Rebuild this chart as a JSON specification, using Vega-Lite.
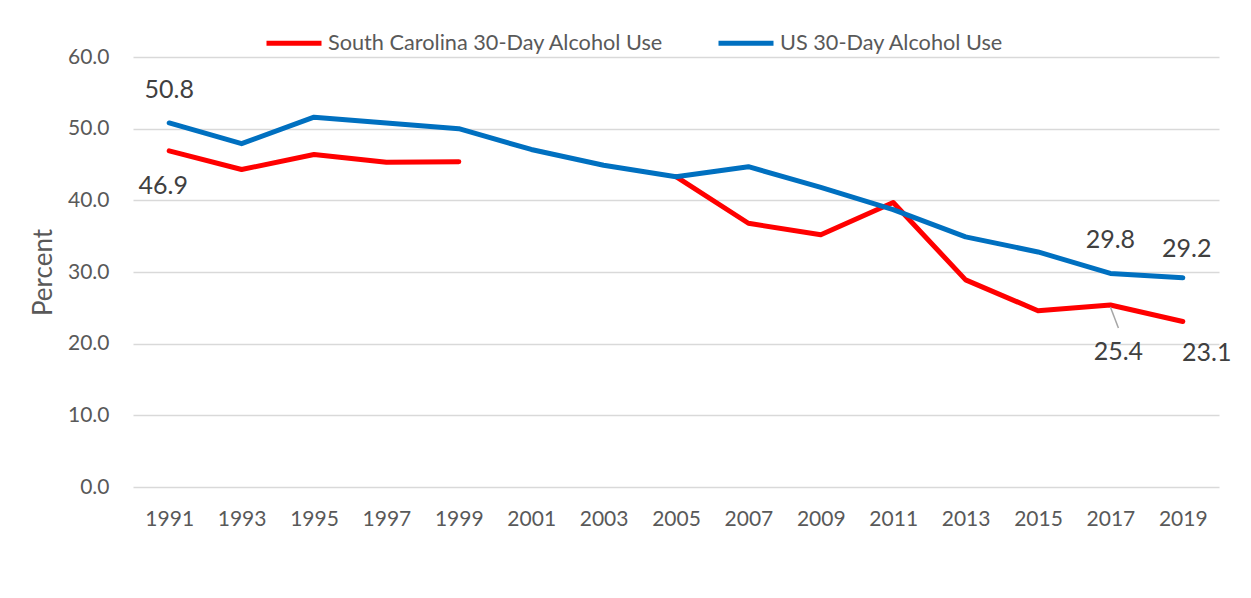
{
  "$schema": "https://vega.github.io/schema/vega-lite/v6.json",
  "width": 1086,
  "height": 430,
  "autosize": {"type": "none"},
  "padding": {"left": 133, "top": 57, "right": 32, "bottom": 111},
  "background": "white",
  "config": {
    "font": "Lato",
    "view": {"stroke": null},
    "axis": {"labelFont": "Lato", "labelColor": "#595959", "labelFontSize": 21, "titleFont": "Lato", "titleColor": "#595959", "titleFontWeight": "normal"}
  },
  "data": {
    "values": [
      {"year": "1991", "series": "South Carolina 30-Day Alcohol Use", "value": 46.9},
      {"year": "1993", "series": "South Carolina 30-Day Alcohol Use", "value": 44.3},
      {"year": "1995", "series": "South Carolina 30-Day Alcohol Use", "value": 46.4},
      {"year": "1997", "series": "South Carolina 30-Day Alcohol Use", "value": 45.3},
      {"year": "1999", "series": "South Carolina 30-Day Alcohol Use", "value": 45.4},
      {"year": "2001", "series": "South Carolina 30-Day Alcohol Use", "value": null},
      {"year": "2003", "series": "South Carolina 30-Day Alcohol Use", "value": null},
      {"year": "2005", "series": "South Carolina 30-Day Alcohol Use", "value": 43.3},
      {"year": "2007", "series": "South Carolina 30-Day Alcohol Use", "value": 36.8},
      {"year": "2009", "series": "South Carolina 30-Day Alcohol Use", "value": 35.2},
      {"year": "2011", "series": "South Carolina 30-Day Alcohol Use", "value": 39.7},
      {"year": "2013", "series": "South Carolina 30-Day Alcohol Use", "value": 28.9},
      {"year": "2015", "series": "South Carolina 30-Day Alcohol Use", "value": 24.6},
      {"year": "2017", "series": "South Carolina 30-Day Alcohol Use", "value": 25.4},
      {"year": "2019", "series": "South Carolina 30-Day Alcohol Use", "value": 23.1},
      {"year": "1991", "series": "US 30-Day Alcohol Use", "value": 50.8},
      {"year": "1993", "series": "US 30-Day Alcohol Use", "value": 47.9},
      {"year": "1995", "series": "US 30-Day Alcohol Use", "value": 51.6},
      {"year": "1997", "series": "US 30-Day Alcohol Use", "value": 50.8},
      {"year": "1999", "series": "US 30-Day Alcohol Use", "value": 50.0},
      {"year": "2001", "series": "US 30-Day Alcohol Use", "value": 47.1},
      {"year": "2003", "series": "US 30-Day Alcohol Use", "value": 44.9},
      {"year": "2005", "series": "US 30-Day Alcohol Use", "value": 43.3},
      {"year": "2007", "series": "US 30-Day Alcohol Use", "value": 44.7},
      {"year": "2009", "series": "US 30-Day Alcohol Use", "value": 41.8},
      {"year": "2011", "series": "US 30-Day Alcohol Use", "value": 38.7},
      {"year": "2013", "series": "US 30-Day Alcohol Use", "value": 34.9},
      {"year": "2015", "series": "US 30-Day Alcohol Use", "value": 32.8},
      {"year": "2017", "series": "US 30-Day Alcohol Use", "value": 29.8},
      {"year": "2019", "series": "US 30-Day Alcohol Use", "value": 29.2}
    ]
  },
  "encoding": {
    "x": {
      "field": "year", "type": "ordinal",
      "scale": {"type": "point", "padding": 0.5},
      "axis": {"title": null, "labelAngle": 0, "domain": false, "ticks": false, "labelPadding": 21, "grid": false}
    },
    "y": {
      "field": "value", "type": "quantitative",
      "scale": {"domain": [0, 60], "nice": false},
      "axis": {"title": "Percent", "titleFontSize": 26, "titlePadding": 11, "values": [0, 10, 20, 30, 40, 50, 60], "format": ".1f", "domain": false, "ticks": false, "labelPadding": 24, "grid": true, "gridColor": "#D9D9D9", "gridWidth": 1.5}
    }
  },
  "layer": [
    {
      "mark": {"type": "line", "strokeWidth": 5, "strokeCap": "round", "strokeJoin": "round", "invalid": "break-paths-show-domains"},
      "encoding": {
        "color": {
          "field": "series", "type": "nominal",
          "scale": {"domain": ["South Carolina 30-Day Alcohol Use", "US 30-Day Alcohol Use"], "range": ["#FF0000", "#0070C0"]},
          "legend": {"title": null, "orient": "none", "direction": "horizontal", "legendX": 131, "legendY": -44, "symbolType": "stroke", "symbolSize": 3025, "symbolStrokeWidth": 5, "labelFont": "Lato", "labelFontSize": 21.7, "labelColor": "#595959", "labelOffset": 4, "labelLimit": 600, "columnPadding": 44}
        }
      }
    },
    {
      "transform": [{"filter": "datum.series == 'US 30-Day Alcohol Use' && (datum.year == '1991' || datum.year == '2017')"}],
      "mark": {"type": "text", "fontSize": 25, "color": "#404040", "dy": -33, "baseline": "middle"},
      "encoding": {"text": {"field": "value", "type": "quantitative", "format": ".1f"}}
    },
    {
      "transform": [{"filter": "datum.series == 'US 30-Day Alcohol Use' && datum.year == '2019'"}],
      "mark": {"type": "text", "fontSize": 25, "color": "#404040", "dy": -29, "dx": 4, "baseline": "middle"},
      "encoding": {"text": {"field": "value", "type": "quantitative", "format": ".1f"}}
    },
    {
      "transform": [{"filter": "datum.series == 'South Carolina 30-Day Alcohol Use' && datum.year == '1991'"}],
      "mark": {"type": "text", "fontSize": 25, "color": "#404040", "dy": 35, "dx": -6, "baseline": "middle"},
      "encoding": {"text": {"field": "value", "type": "quantitative", "format": ".1f"}}
    },
    {
      "transform": [{"filter": "datum.series == 'South Carolina 30-Day Alcohol Use' && datum.year == '2017'"}],
      "mark": {"type": "text", "fontSize": 25, "color": "#404040", "dy": 47, "dx": 8, "baseline": "middle"},
      "encoding": {"text": {"field": "value", "type": "quantitative", "format": ".1f"}}
    },
    {
      "transform": [{"filter": "datum.series == 'South Carolina 30-Day Alcohol Use' && datum.year == '2017'"}],
      "mark": {"type": "rule", "color": "#A6A6A6", "strokeWidth": 1.5, "y2Offset": 23, "x2Offset": 8, "yOffset": 2},
      "encoding": {"x2": {"field": "year"}, "y2": {"field": "value"}}
    },
    {
      "transform": [{"filter": "datum.series == 'South Carolina 30-Day Alcohol Use' && datum.year == '2019'"}],
      "mark": {"type": "text", "fontSize": 25, "color": "#404040", "dy": 32, "dx": 24, "baseline": "middle"},
      "encoding": {"text": {"field": "value", "type": "quantitative", "format": ".1f"}}
    }
  ]
}
